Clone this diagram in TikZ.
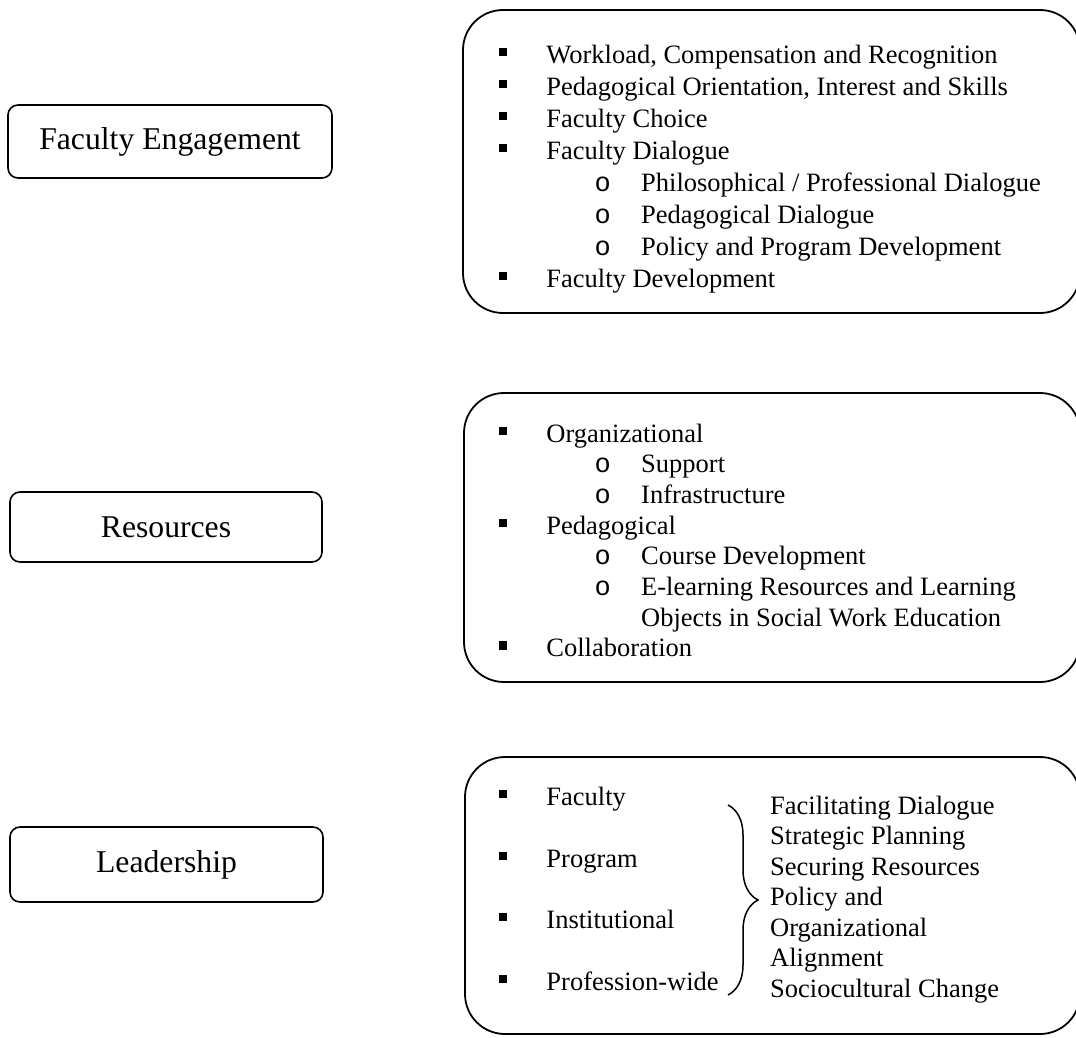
\documentclass[tikz,border=0pt]{standalone}
\usepackage{fontspec}
\setmainfont{Liberation Serif}
\newfontfamily\bulletfont{Liberation Mono}
\usepackage{tikz}
\usetikzlibrary{decorations.pathreplacing}
% list marks: filled square for items, mono "o" for sub-items
\newcommand{\sqbul}{\rule[7pt]{7.5pt}{8.5pt}\hspace{39.5pt}}
\newcommand{\obul}{\makebox[46.5pt][l]{\fontsize{27}{27}\bulletfont o}}

\begin{document}
\begin{tikzpicture}[
  x=1pt,y=-1pt,
  box/.style={draw,line width=1.6pt,rounded corners=10pt,font=\fontsize{31.7}{38}\selectfont},
  panel/.style={draw,line width=1.8pt,rounded corners=40pt},
  txt/.style={anchor=base west,inner sep=0pt,font=\fontsize{26.5}{32}\selectfont},
  brc/.style={decorate,decoration={brace,amplitude=30pt},line width=1.5pt}
]
\useasboundingbox (0,0) rectangle (1076,1037);
\clip (0,0) rectangle (1076,1037);
% headings on the left
\node[box,minimum width=324pt,minimum height=73pt] (engage) at (170,141.5) {Faculty Engagement};
\node[box,minimum width=312pt,minimum height=70pt] (resources) at (166,527) {Resources};
\node[box,minimum width=313pt,minimum height=75pt] (leadership) at (166.5,864.5) {Leadership};
% panels on the right (they run off the page edge)
\node[panel,minimum width=617pt,minimum height=303pt] (engage-list) at (771.5,161.5) {};
\node[panel,minimum width=616pt,minimum height=289pt] (res-list) at (772,537.5) {};
\node[panel,minimum width=615pt,minimum height=277pt] (lead-list) at (772.5,895.5) {};
% faculty engagement
\node[txt] (fe1) at (499.25,63) {\sqbul Workload, Compensation and Recognition};
\node[txt] (fe2) at (499.25,95) {\sqbul Pedagogical Orientation, Interest and Skills};
\node[txt] (fe3) at (499.25,127) {\sqbul Faculty Choice};
\node[txt] (fe4) at (499.25,159) {\sqbul Faculty Dialogue};
\node[txt] (fe5) at (594.5,191) {\obul Philosophical / Professional Dialogue};
\node[txt] (fe6) at (594.5,223) {\obul Pedagogical Dialogue};
\node[txt] (fe7) at (594.5,255) {\obul Policy and Program Development};
\node[txt] (fe8) at (499.25,287) {\sqbul Faculty Development};
% resources
\node[txt] (res1) at (499.25,442) {\sqbul Organizational};
\node[txt] (res2) at (594.5,472.7) {\obul Support};
\node[txt] (res3) at (594.5,503.4) {\obul Infrastructure};
\node[txt] (res4) at (499.25,534.1) {\sqbul Pedagogical};
\node[txt] (res5) at (594.5,564.8) {\obul Course Development};
\node[txt] (res6) at (594.5,595.5) {\obul E-learning Resources and Learning};
\node[txt] (res7) at (641,626.2) {Objects in Social Work Education};
\node[txt] (res8) at (499.25,656.9) {\sqbul Collaboration};
% leadership levels
\node[txt] (lead1) at (499.25,805) {\sqbul Faculty};
\node[txt] (lead2) at (499.25,867) {\sqbul Program};
\node[txt] (lead3) at (499.25,928) {\sqbul Institutional};
\node[txt] (lead4) at (499.25,990) {\sqbul Profession-wide};
% leadership roles
\node[txt] (role1) at (770,814) {Facilitating Dialogue};
\node[txt] (role2) at (770,844.5) {Strategic Planning};
\node[txt] (role3) at (770,875) {Securing Resources};
\node[txt] (role4) at (770,905.5) {Policy and};
\node[txt] (role5) at (770,936) {Organizational};
\node[txt] (role6) at (770,966.5) {Alignment};
\node[txt] (role7) at (770,997) {Sociocultural Change};
\coordinate (brtop) at (728,805);
\coordinate (brbot) at (728,995);
\draw[brc] (brtop) -- (brbot);
\end{tikzpicture}
\end{document}
